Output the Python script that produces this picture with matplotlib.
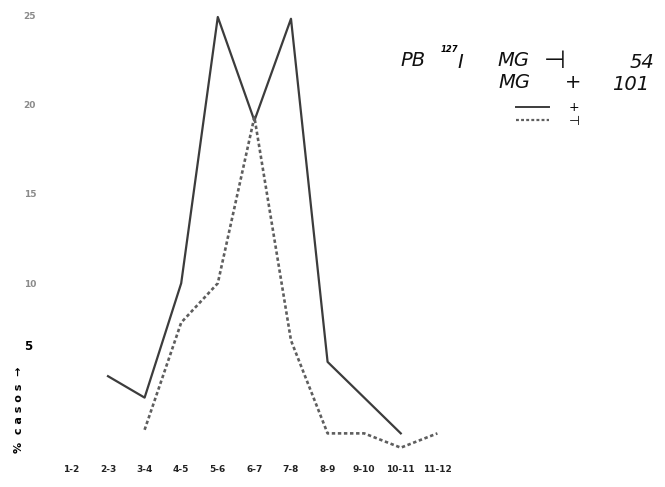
import numpy as np
import matplotlib
matplotlib.use('Agg')
import matplotlib.pyplot as plt
from matplotlib.lines import Line2D

#%% data
intervals = ['1-2', '2-3', '3-4', '4-5', '5-6', '6-7', '7-8', '8-9', '9-10', '10-11', '11-12']

# MG + 101  (solid)
plus_cats = ['2-3', '3-4', '4-5', '5-6', '6-7', '7-8', '8-9', '10-11']
plus_vals = [4.8, 3.6, 10.0, 24.9, 19.1, 24.8, 5.6, 1.6]

# MG - 54  (dashed)
minus_cats = ['3-4', '4-5', '5-6', '6-7', '7-8', '8-9', '9-10', '10-11', '11-12']
minus_vals = [1.8, 7.8, 10.0, 19.3, 6.8, 1.6, 1.6, 0.8, 1.6]

yticks = [10, 15, 20, 25]

#%%
pos = {c: i + 1 for i, c in enumerate(intervals)}
xp = [pos[c] for c in plus_cats]
xm = [pos[c] for c in minus_cats]

W, H = 665, 487
fig = plt.figure(figsize=(W / 100, H / 100), dpi=100)
# axes box in pixels: left 50, right 650, top 10, bottom 455
ax = fig.add_axes([50 / W, (H - 455) / H, 600 / W, 445 / H])
ax.set_xlim(0.415, 16.81)
ax.set_ylim(0.39, 25.29)

solid_c = '#3c3c3c'
dash_c = '#5e5e5e'
dash_ls = (0, (1.3, 1.0))
ax.plot(xp, plus_vals, color=solid_c, lw=1.6)
ax.plot(xm, minus_vals, color=dash_c, lw=1.9, linestyle=dash_ls)

for s in ax.spines.values():
    s.set_visible(False)
ax.set_xticks(range(1, len(intervals) + 1))
ax.set_xticklabels(intervals, fontsize=6.5, fontweight='bold', color='#222222')
ax.set_yticks(yticks)
ax.set_yticklabels([str(v) for v in yticks], fontsize=6.5, fontweight='bold', color='#8a8a8a')
ax.tick_params(axis='x', length=0, pad=7)
ax.tick_params(axis='y', length=0, pad=10)

# the "5" is written lower than its grid value, next to the axis title
fig.text(28 / W, 1 - 347 / H, '5', fontsize=8.5, fontweight='bold', ha='center', va='center')
fig.text(19 / W, 1 - 410 / H, '%  c a s o s  \u2192', rotation=90, fontsize=8,
         fontweight='bold', ha='center', va='center')

# handwritten notes
hand = dict(fontsize=14, style='italic', color='#111111', va='center')
fig.text(400 / W, 1 - 60 / H, 'PB', **hand)
fig.text(441 / W, 1 - 50 / H, '127', fontsize=6, style='italic', fontweight='bold', va='center')
fig.text(457 / W, 1 - 62 / H, 'I', **hand)
fig.text(497 / W, 1 - 60 / H, 'MG', **hand)
fig.text(544 / W, 1 - 61 / H, '\u22a3', fontsize=18, color='#111111', va='center')
fig.text(630 / W, 1 - 62 / H, '54', **hand)
fig.text(498 / W, 1 - 83 / H, 'MG', **hand)
fig.text(565 / W, 1 - 83 / H, '+', **hand)
fig.text(612 / W, 1 - 85 / H, '101', **hand)

handles = [Line2D([], [], color=solid_c, lw=1.4),
           Line2D([], [], color=dash_c, lw=1.6, linestyle=dash_ls)]
fig.legend(handles, ['+', '\u22a3'], loc='upper left', bbox_to_anchor=(516 / W, 1 - 101 / H),
           frameon=False, fontsize=9, handlelength=2.6, labelspacing=0.05, handletextpad=1.6,
           borderpad=0, borderaxespad=0)

fig.savefig('out.png', dpi=100)
